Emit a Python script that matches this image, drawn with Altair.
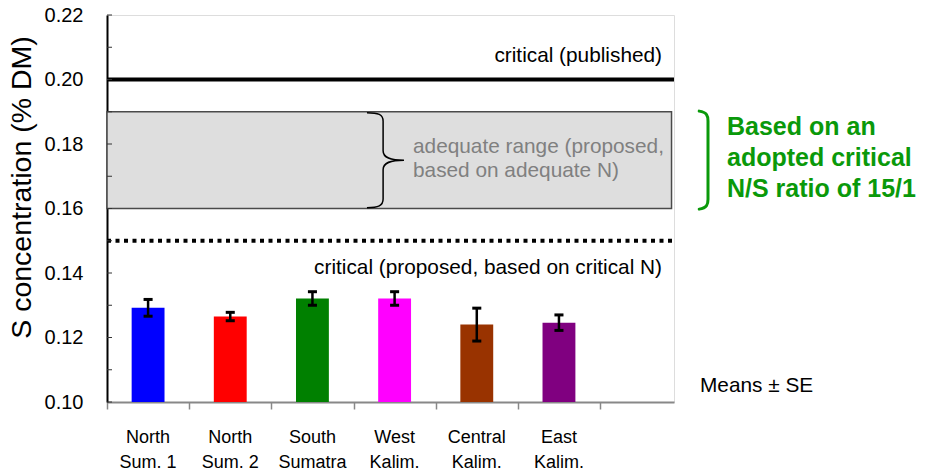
import altair as alt
import pandas as pd

# ---- data ----
regions = ["North\nSum. 1", "North\nSum. 2", "South\nSumatra", "West\nKalim.", "Central\nKalim.", "East\nKalim."]
means = [0.1292, 0.1265, 0.1321, 0.1321, 0.1240, 0.1246]
se = [0.0026, 0.0013, 0.0021, 0.0021, 0.0051, 0.0024]
colors = ["#0000ff", "#ff0000", "#008000", "#ff00ff", "#993300", "#800080"]

critical_published = 0.20
critical_proposed = 0.15
adequate_low, adequate_high = 0.16, 0.19

y_ticks_major = [0.10, 0.12, 0.14, 0.16, 0.18, 0.20, 0.22]
y_ticks_minor = [0.10, 0.11, 0.12, 0.13, 0.14, 0.15, 0.16, 0.17, 0.18, 0.19, 0.20, 0.21, 0.22]
x_tick_positions = [0, 1, 2, 3, 4, 5, 6]

FONT = "Liberation Sans"
W, H = 567, 387
XMAX = 6.9

bars = pd.DataFrame({
    "region": regions,
    "pos": [i + 0.5 for i in range(len(regions))],
    "x0": [i + 0.3 for i in range(len(regions))],
    "x1": [i + 0.7 for i in range(len(regions))],
    "cx0": [i + 0.445 for i in range(len(regions))],
    "cx1": [i + 0.555 for i in range(len(regions))],
    "mean": means,
    "lo": [m - s for m, s in zip(means, se)],
    "hi": [m + s for m, s in zip(means, se)],
    "color": colors,
})

xs = alt.Scale(domain=[0, XMAX], nice=False, zero=False)
ys = alt.Scale(domain=[0.10, 0.22], nice=False, zero=False)

base = alt.Chart(bars)

# adequate range box
box_df = pd.DataFrame({"x0": [0.0], "x1": [6.87], "y0": [adequate_low], "y1": [adequate_high]})
box = alt.Chart(box_df).mark_rect(fill="#dedede", stroke="#4a4a4a", strokeWidth=1.5).encode(
    x=alt.X("x0:Q", scale=xs, axis=alt.Axis(values=x_tick_positions, labels=False, title=None,
                                            tickSize=7, tickColor="#888888", tickWidth=1.5,
                                            domainColor="#888888", domainWidth=2, grid=False)),
    x2="x1:Q",
    y=alt.Y("y0:Q", scale=ys, axis=alt.Axis(values=y_ticks_major, format=".2f", title="S concentration (% DM)",
                                            ticks=False, tickSize=0, labelPadding=24, labelFontSize=20,
                                            labelFont=FONT, labelColor="black", domainColor="black",
                                            domainWidth=2, grid=False, titleFont=FONT, titleFontSize=28.5,
                                            titleFontWeight="normal", titleColor="black",
                                            titleX=-71, titleY=172)),
    y2="y1:Q",
)

lines_df = pd.DataFrame({"x0": [0.0, 0.0], "x1": [XMAX, XMAX],
                         "y": [critical_published, critical_proposed], "kind": ["solid", "dotted"]})
solid = alt.Chart(lines_df[lines_df.kind == "solid"]).mark_rule(color="black", strokeWidth=4).encode(
    x=alt.X("x0:Q", scale=xs), x2="x1:Q", y=alt.Y("y:Q", scale=ys))
dotted = alt.Chart(lines_df[lines_df.kind == "dotted"]).mark_rule(
    color="black", strokeWidth=4, strokeDash=[4, 4.5], strokeCap="butt").encode(
    x=alt.X("x0:Q", scale=xs), x2="x1:Q", y=alt.Y("y:Q", scale=ys))

minor_df = pd.DataFrame({"y": y_ticks_minor})
minor = alt.Chart(minor_df).mark_rule(color="#333333", strokeWidth=1).encode(
    x=alt.value(0), x2=alt.value(5), y=alt.Y("y:Q", scale=ys))

barmarks = base.mark_bar().encode(
    x=alt.X("x0:Q", scale=xs), x2="x1:Q",
    y=alt.Y("mean:Q", scale=ys), y2=alt.datum(0.10),
    color=alt.Color("color:N", scale=None),
)
err = base.mark_rule(color="black", strokeWidth=2.5).encode(
    x=alt.X("pos:Q", scale=xs), y=alt.Y("lo:Q", scale=ys), y2="hi:Q")
cap_hi = base.mark_rule(color="black", strokeWidth=3).encode(
    x=alt.X("cx0:Q", scale=xs), x2="cx1:Q", y=alt.Y("hi:Q", scale=ys))
cap_lo = base.mark_rule(color="black", strokeWidth=3).encode(
    x=alt.X("cx0:Q", scale=xs), x2="cx1:Q", y=alt.Y("lo:Q", scale=ys))

xlabels = base.mark_text(font=FONT, fontSize=18, lineBreak="\n", lineHeight=25, align="center",
                         baseline="alphabetic", color="black").encode(
    x=alt.X("pos:Q", scale=xs), y=alt.value(428), text="region:N")

# annotations
ann_right = pd.DataFrame({
    "x": [6.754, 6.754],
    "y": [0.2054, 0.1397],
    "t": ["critical (published)", "critical (proposed, based on critical N)"],
})
t_right = alt.Chart(ann_right).mark_text(font=FONT, fontSize=20.8, align="right", baseline="alphabetic",
                                         color="black").encode(
    x=alt.X("x:Q", scale=xs), y=alt.Y("y:Q", scale=ys), text="t:N")

ann_gray = pd.DataFrame({"x": [3.724], "y": [0.1772], "t": ["adequate range (proposed,\nbased on adequate N)"]})
t_gray = alt.Chart(ann_gray).mark_text(font=FONT, fontSize=20.8, align="left", baseline="alphabetic",
                                       lineBreak="\n", lineHeight=24, color="#808080").encode(
    x=alt.X("x:Q", scale=xs), y=alt.Y("y:Q", scale=ys), text="t:N")

ann_means = pd.DataFrame({"x": [7.217], "y": [0.1031], "t": ["Means ± SE"]})
t_means = alt.Chart(ann_means).mark_text(font=FONT, fontSize=20.8, align="left", baseline="alphabetic",
                                         color="black").encode(
    x=alt.X("x:Q", scale=xs), y=alt.Y("y:Q", scale=ys), text="t:N")

ann_green = pd.DataFrame({"x": [7.545], "y": [0.1828], "t": ["Based on an\nadopted critical\nN/S ratio of 15/1"]})
t_green = alt.Chart(ann_green).mark_text(font=FONT, fontSize=25, fontWeight="bold", align="left",
                                         baseline="alphabetic", lineBreak="\n", lineHeight=31,
                                         color="#0a990a").encode(
    x=alt.X("x:Q", scale=xs), y=alt.Y("y:Q", scale=ys), text="t:N")

BRACE = ("M -0.34 -1 C -0.1 -1 0 -0.96 0 -0.82 L 0 -0.2 C 0 -0.05 0.15 0 0.44 0 "
         "C 0.15 0 0 0.05 0 0.2 L 0 0.82 C 0 0.96 -0.1 1 -0.34 1")
brace_df = pd.DataFrame({"x": [3.36], "y": [(adequate_low + adequate_high) / 2]})
brace = alt.Chart(brace_df).mark_point(shape=BRACE, size=9025, filled=False, stroke="black",
                                       strokeWidth=1.5, opacity=1).encode(
    x=alt.X("x:Q", scale=xs), y=alt.Y("y:Q", scale=ys))

BRACKET = "M -0.12 -1 C 0.04 -0.98 0.06 -0.9 0.06 -0.8 L 0.06 0.8 C 0.06 0.9 0.04 0.98 -0.12 1"
bracket_df = pd.DataFrame({"x": [7.278], "y": [0.175]})
bracket = alt.Chart(bracket_df).mark_point(shape=BRACKET, size=9604, filled=False, stroke="#0a990a",
                                           strokeWidth=3, opacity=1, strokeCap="round").encode(
    x=alt.X("x:Q", scale=xs), y=alt.Y("y:Q", scale=ys))

chart = alt.layer(
    box, solid, dotted, minor, barmarks, err, cap_hi, cap_lo, xlabels,
    t_right, t_gray, t_means, t_green, brace, bracket,
).properties(
    width=W, height=H,
    autosize=alt.AutoSizeParams(type="none"),
    padding={"left": 99, "top": 7, "right": 247, "bottom": 70},
).configure_view(
    stroke="black", strokeWidth=1.5
).configure(background="white")

chart.save("out.html", embed_options={"renderer": "svg", "actions": False})
